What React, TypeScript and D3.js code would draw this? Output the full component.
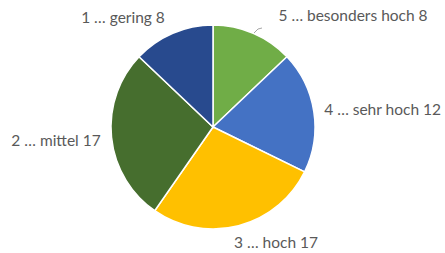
import React from "react";
import * as d3 from "d3";

const categories = ["5 … besonders hoch", "4 … sehr hoch", "3 … hoch", "2 … mittel", "1 … gering"];
const values = [8, 12, 17, 17, 8];
const colors = ["#70AD47", "#4472C4", "#FFC000", "#466E2E", "#284A8E"];

// label layout: position relative to pie center, and anchor
const labelLayout = [
  { x: 140, y: -106, anchor: "middle" },
  { x: 228, y: -12, anchor: "end" },
  { x: 63, y: 121, anchor: "middle" },
  { x: -157, y: 19, anchor: "middle" },
  { x: -90, y: -104, anchor: "middle" },
];

const W = 445;
const H = 253;
const cx = 213;
const cy = 127;
const R = 102;

export default function App() {
  const pie = d3.pie<number>().sort(null).value((d) => d);
  const arcs = pie(values);
  const arc = d3.arc<d3.PieArcDatum<number>>().innerRadius(0).outerRadius(R);
  return (
    <svg width={W} height={H} style={{ position: "absolute", left: 0, top: 0 }}>
      <rect width={W} height={H} fill="#fff" />
      <g transform={`translate(${cx},${cy})`}>
        {arcs.map((a, i) => (
          <path key={i} d={arc(a) || ""} fill={colors[i]} stroke="#fff" strokeWidth={1.5} />
        ))}
        <polyline points="41,-94 45,-98 49,-99" fill="none" stroke="#A6A6A6" strokeWidth={1} />
        {arcs.map((a, i) => (
          <text
            key={i}
            x={labelLayout[i].x}
            y={labelLayout[i].y}
            textAnchor={labelLayout[i].anchor as any}
            fontFamily="Lato, 'Open Sans', sans-serif"
            fontSize={15.5}
            fill="#595959"
          >
            {`${categories[i]} ${values[i]}`}
          </text>
        ))}
      </g>
    </svg>
  );
}
